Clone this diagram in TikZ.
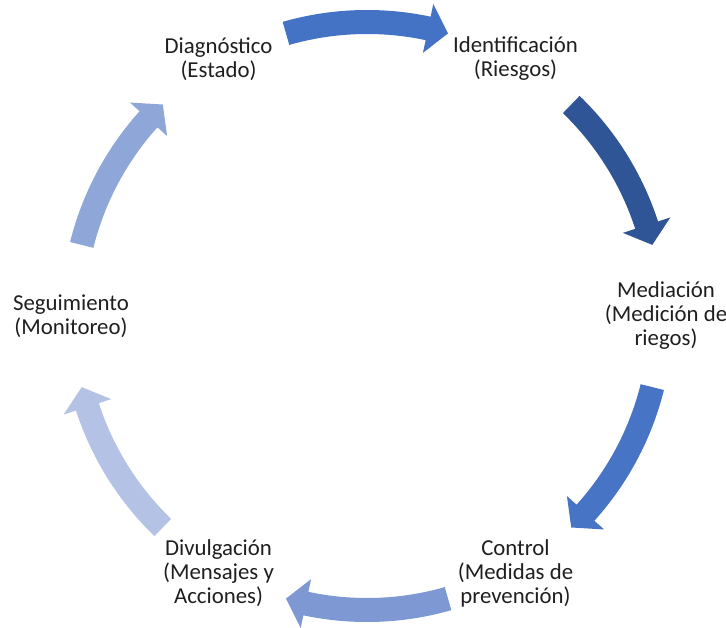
\documentclass[tikz,border=0pt]{standalone}
\usepackage{fontspec}
\setmainfont{Carlito}
\definecolor{arrowA}{HTML}{4472C4}
\definecolor{arrowB}{HTML}{2F5597}
\definecolor{arrowC}{HTML}{4874C5}
\definecolor{arrowD}{HTML}{7D98D2}
\definecolor{arrowE}{HTML}{B4C3E5}
\definecolor{arrowF}{HTML}{8FA6D9}
\begin{document}
\begin{tikzpicture}[x=0.5pt,y=0.5pt,
    stage/.style={align=center,inner sep=0pt,text=black!88,font=\fontsize{11.4}{12}\selectfont}]
    \useasboundingbox (0,0) rectangle (726,627);
    \coordinate (c) at (367,311);
    \begin{scope}[shift={(c)}]
        % curved block arrows, clockwise, between the stages
        \foreach \m/\col in {90/arrowA,30/arrowB,-30/arrowC,-90/arrowD,-150/arrowE,150/arrowF} {
            \pgfmathsetmacro\a{\m+16}
            \pgfmathsetmacro\b{\m-16}
            \pgfmathsetmacro\h{\m-12}
            \fill[\col] (\a:306) arc[start angle=\a, end angle=\h, radius=306] -- (\h:319) -- (\b:294)
                -- (\h:269) -- (\h:282) arc[start angle=\h, end angle=\a, radius=282] -- cycle;
        }
        \node[stage] (diag) at (120:297) {Diagnóstico\\(Estado)};
        \node[stage] (ident) at (60:297) {Identificación\\(Riesgos)};
        \node[stage] (medi) at (0:299) {Mediación\\(Medición de\\riegos)};
        \node[stage] (ctrl) at (-60:297) {Control\\(Medidas de\\prevención)};
        \node[stage] (divul) at (-120:297) {Divulgación\\(Mensajes y\\Acciones)};
        \node[stage] (segui) at (180:296) {Seguimiento\\(Monitoreo)};
    \end{scope}
\end{tikzpicture}
\end{document}
